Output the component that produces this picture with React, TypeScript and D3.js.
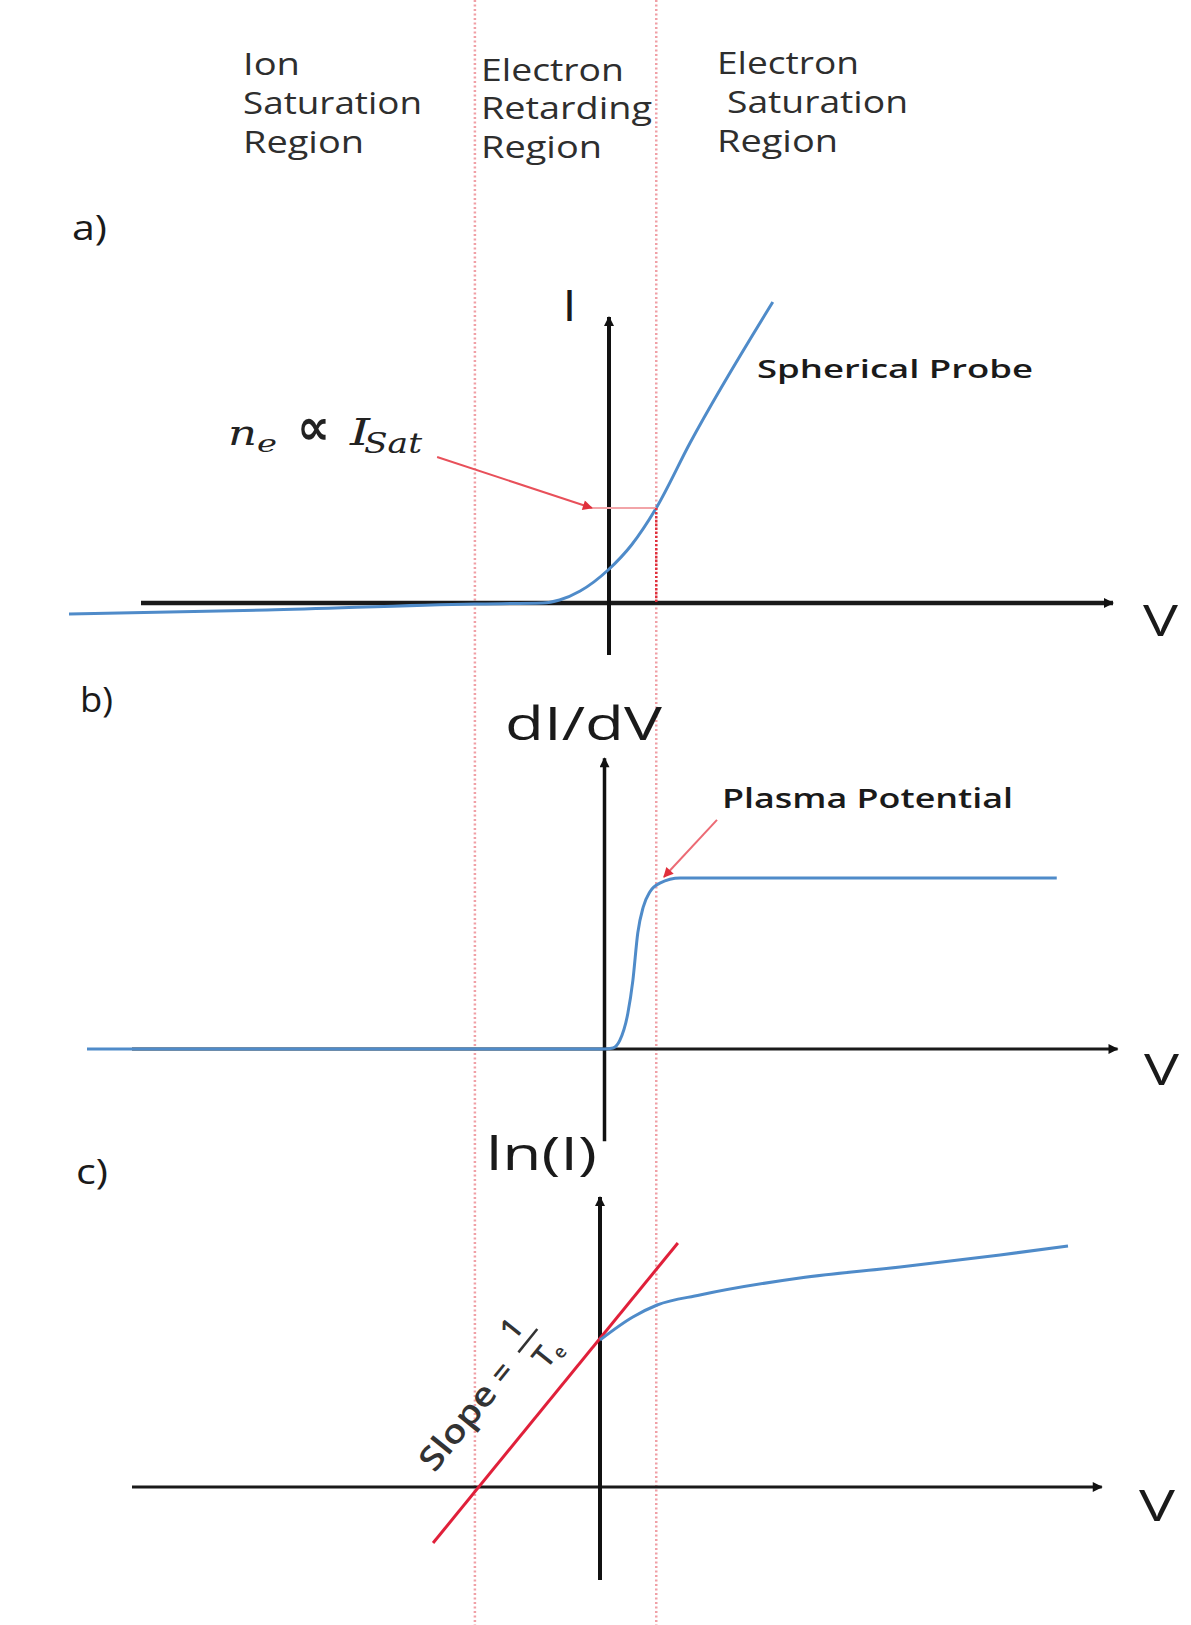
import React, { useRef, useEffect } from 'react';
import * as d3 from 'd3';

const WIDTH = 1191;
const HEIGHT = 1625;

// probe bias in arbitrary volts, 0 sits on the I axis of panel a
const regionEdges = [-2.98, 1.05]; // floating side edge, plasma potential

const ionRegion = ['Ion', 'Saturation', 'Region'];
const retardingRegion = ['Electron', 'Retarding', 'Region'];
const saturationRegion = ['Electron', 'Saturation', 'Region'];

// a) I-V trace of a spherical probe
const ivVolts = [-12, -7.6, -3, -1.47, -1.1, -0.64, -0.02, 0.5, 1.05, 1.8, 3.64];
const ivCurrent = [-0.11, -0.07, -0.01, 0, 0.03, 0.12, 0.33, 0.58, 0.95, 1.6, 3.01];

// b) first derivative
const didvVolts = [-11.6, -0.11, 0.09, 0.24, 0.42, 0.53, 0.64, 0.76, 0.91, 1.13, 1.58, 9.95];
const didvValues = [0, 0, 0.006, 0.05, 0.21, 0.4, 0.68, 0.83, 0.92, 0.97, 1.0, 1.0];

// c) log of the current and the fitted tangent
const lnVolts = [-0.2, 0.53, 1.07, 2.02, 4.24, 6.47, 8.69, 10.2];
const lnValues = [1.47, 1.7, 1.82, 1.92, 2.09, 2.2, 2.32, 2.41];
const tangentVolts = [-3.91, 1.53];
const tangentValues = [-0.56, 2.44];

// V position of each panel's vertical axis
const panelOrigins = [0, -0.1, -0.2];

const BLUE = '#4f8bc9';
const TEXT = '#2e2e2e';

const App: React.FC = () => {
  const ref = useRef<SVGSVGElement | null>(null);

  useEffect(() => {
    const svg = d3.select(ref.current);
    svg.selectAll('*').remove();

    const x = d3.scaleLinear().domain([-12, 12]).range([69, 1149]);
    const yA = d3.scaleLinear().domain([0, 3]).range([603, 303]);
    const yB = d3.scaleLinear().domain([0, 1]).range([1049, 878]);
    const yC = d3.scaleLinear().domain([0, 2.5]).range([1487, 1237]);

    svg.append('rect').attr('width', WIDTH).attr('height', HEIGHT).attr('fill', '#fff');

    const defs = svg.append('defs');
    const marker = (id: string, color: string, w: number, h: number) => {
      defs.append('marker')
        .attr('id', id)
        .attr('viewBox', '0 0 10 10')
        .attr('refX', 9)
        .attr('refY', 5)
        .attr('markerUnits', 'userSpaceOnUse')
        .attr('markerWidth', w)
        .attr('markerHeight', h)
        .attr('orient', 'auto')
        .append('path')
        .attr('d', 'M0,0L10,5L0,10z')
        .attr('fill', color);
    };
    marker('axisArrow', '#111', 12, 10);
    marker('redArrow', '#e0303c', 12, 10);

    // region boundaries
    regionEdges.forEach(v => {
      svg.append('line')
        .attr('x1', x(v)).attr('x2', x(v))
        .attr('y1', 0).attr('y2', HEIGHT)
        .attr('stroke', '#f0a0a6')
        .attr('stroke-width', 2.5)
        .attr('stroke-dasharray', '2 2.5');
    });

    // top region labels
    const labelCol = (lines: string[], x0: number[], y0: number[], widths: number[]) => {
      lines.forEach((t, i) => {
        svg.append('text')
          .attr('x', x0[i]).attr('y', y0[i])
          .attr('font-family', 'Open Sans')
          .attr('font-size', 31)
          .attr('font-weight', 500)
          .attr('fill', TEXT)
          .attr('textLength', widths[i])
          .attr('lengthAdjust', 'spacingAndGlyphs')
          .text(t);
      });
    };
    labelCol(ionRegion, [243, 243, 243], [75, 114, 153], [57, 179, 121]);
    labelCol(retardingRegion, [481, 481, 481], [81, 119, 158], [143, 171, 121]);
    labelCol(saturationRegion, [717, 727, 717], [74, 113, 152], [142, 181, 121]);

    const stretched = (t: string, px: number, py: number, size: number, w: number, weight = 400) =>
      svg.append('text')
        .attr('x', px).attr('y', py)
        .attr('font-family', 'Open Sans')
        .attr('font-size', size)
        .attr('font-weight', weight)
        .attr('fill', '#1a1a1a')
        .attr('textLength', w)
        .attr('lengthAdjust', 'spacingAndGlyphs')
        .text(t);

    stretched('a)', 72, 240, 34, 35, 500);
    stretched('b)', 80, 712, 34, 33, 500);
    stretched('c)', 76, 1184, 34, 32, 500);

    const axisPair = (
      y: d3.ScaleLinear<number, number>,
      origin: number,
      hRange: number[],
      vRange: number[],
      widthH: number,
      widthV: number
    ) => {
      svg.append('line')
        .attr('x1', x(hRange[0])).attr('x2', x(hRange[1]))
        .attr('y1', y(0)).attr('y2', y(0))
        .attr('stroke', '#1a1a1a')
        .attr('stroke-width', widthH)
        .attr('marker-end', 'url(#axisArrow)');
      svg.append('line')
        .attr('x1', x(origin)).attr('x2', x(origin))
        .attr('y1', y(vRange[0])).attr('y2', y(vRange[1]))
        .attr('stroke', '#111')
        .attr('stroke-width', widthV)
        .attr('marker-end', 'url(#axisArrow)');
    };

    const curve = (volts: number[], vals: number[], y: d3.ScaleLinear<number, number>) =>
      d3.line<number>()
        .x((_, i) => x(volts[i]))
        .y(d => y(d))
        .curve(d3.curveMonotoneX)(vals);

    // ---------- a) ----------
    axisPair(yA, panelOrigins[0], [-10.4, 11.2], [-0.52, 2.86], 4.5, 4);
    svg.append('path')
      .attr('d', curve(ivVolts, ivCurrent, yA))
      .attr('fill', 'none')
      .attr('stroke', BLUE)
      .attr('stroke-width', 3);

    const isat = ivCurrent[ivVolts.indexOf(regionEdges[1])];
    svg.append('line')
      .attr('x1', x(-0.38)).attr('x2', x(regionEdges[1]))
      .attr('y1', yA(isat)).attr('y2', yA(isat))
      .attr('stroke', '#f2a4a8').attr('stroke-width', 2);
    svg.append('line')
      .attr('x1', x(regionEdges[1])).attr('x2', x(regionEdges[1]))
      .attr('y1', yA(isat)).attr('y2', yA(0))
      .attr('stroke', '#e0303c').attr('stroke-width', 2.5)
      .attr('stroke-dasharray', '2 2');
    svg.append('line')
      .attr('x1', x(-3.82)).attr('y1', yA(1.46))
      .attr('x2', x(-0.38)).attr('y2', yA(isat))
      .attr('stroke', '#e8505a').attr('stroke-width', 2)
      .attr('marker-end', 'url(#redArrow)');

    stretched('I', 564, 321, 44, 11, 600);
    stretched('V', 1143, 636, 44, 35, 500);
    stretched('Spherical Probe', 757, 378, 26, 276, 600);

    // n_e ∝ I_Sat, laid out piece by piece
    const math = (t: string, px: number, py: number, size: number, w: number, italic = true) =>
      svg.append('text')
        .attr('x', px).attr('y', py)
        .attr('font-family', 'DejaVu Serif')
        .attr('font-style', italic ? 'italic' : 'normal')
        .attr('font-size', size)
        .attr('fill', '#222')
        .attr('textLength', w)
        .attr('lengthAdjust', 'spacingAndGlyphs')
        .text(t);
    math('n', 228, 445, 36, 29);
    math('e', 257, 452, 24, 20);
    math('∝', 297, 444, 50, 33, false).attr('font-family', 'DejaVu Sans').attr('font-weight', 700);
    math('I', 350, 445, 38, 20);
    math('Sat', 364, 453, 27, 58);

    // ---------- b) ----------
    axisPair(yB, panelOrigins[1], [-10.6, 11.3], [-0.54, 1.7], 3, 3.5);
    svg.append('path')
      .attr('d', curve(didvVolts, didvValues, yB))
      .attr('fill', 'none')
      .attr('stroke', BLUE)
      .attr('stroke-width', 3);
    svg.append('line')
      .attr('x1', x(2.4)).attr('y1', yB(1.34))
      .attr('x2', x(1.22)).attr('y2', yB(1.006))
      .attr('stroke', '#ec6a74').attr('stroke-width', 2)
      .attr('marker-end', 'url(#redArrow)');

    stretched('dI/dV', 505, 740, 46, 157);
    stretched('V', 1144, 1085, 44, 35, 500);
    stretched('Plasma Potential', 722, 808, 27, 291, 600);

    // ---------- c) ----------
    axisPair(yC, panelOrigins[2], [-10.6, 10.95], [-0.93, 2.9], 3, 4);
    svg.append('path')
      .attr('d', curve(tangentVolts, tangentValues, yC))
      .attr('fill', 'none')
      .attr('stroke', '#e0203a')
      .attr('stroke-width', 3);
    svg.append('path')
      .attr('d', curve(lnVolts, lnValues, yC))
      .attr('fill', 'none')
      .attr('stroke', BLUE)
      .attr('stroke-width', 3);

    stretched('ln(I)', 486, 1170, 46, 111);
    stretched('V', 1139, 1521, 44, 36, 500);

    const slope = svg.append('g')
      .attr('transform', 'translate(458,1427) rotate(-51)')
      .attr('font-family', 'Open Sans')
      .attr('font-weight', 600)
      .attr('fill', '#333');
    slope.append('text')
      .attr('x', 0).attr('y', 11)
      .attr('text-anchor', 'middle')
      .attr('font-size', 33)
      .attr('textLength', 102)
      .attr('lengthAdjust', 'spacingAndGlyphs')
      .text('Slope');
    slope.append('text')
      .attr('x', 70).attr('y', 11)
      .attr('text-anchor', 'middle')
      .attr('font-size', 32)
      .text('=');
    slope.append('text')
      .attr('x', 110).attr('y', -10)
      .attr('text-anchor', 'middle')
      .attr('font-size', 30)
      .text('1');
    slope.append('line')
      .attr('x1', 96).attr('x2', 126)
      .attr('y1', 0).attr('y2', 0)
      .attr('stroke', '#333').attr('stroke-width', 2.5);
    const te = slope.append('text')
      .attr('x', 100).attr('y', 33)
      .attr('font-size', 30);
    te.append('tspan').text('T');
    te.append('tspan').attr('dy', 5).attr('font-size', 18).text('e');
  }, []);

  return (
    <svg
      ref={ref}
      width={WIDTH}
      height={HEIGHT}
      style={{ position: 'absolute', left: 0, top: 0, display: 'block' }}
    />
  );
};

export default App;
